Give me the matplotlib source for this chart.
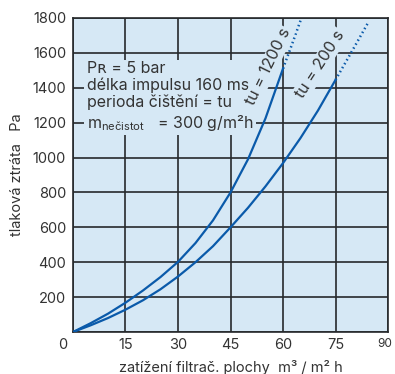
"""Tlaková ztráta vs. zatížení filtrační plochy for two cleaning periods."""
import matplotlib
matplotlib.use("Agg")
import matplotlib.pyplot as plt
from matplotlib.transforms import ScaledTranslation

# data
load_1200 = [0, 5, 10, 15, 20, 25, 30, 35, 40, 45, 50, 55, 60]
dp_1200 = [0, 50, 105, 168, 238, 315, 402, 510, 640, 800, 990, 1225, 1510]
load_1200_ext = [60, 62.5, 65]
dp_1200_ext = [1510, 1645, 1785]

load_200 = [0, 5, 10, 15, 20, 25, 30, 35, 40, 45, 50, 55, 60, 65, 70, 75]
dp_200 = [0, 38, 80, 128, 182, 245, 318, 400, 492, 600, 712, 835, 968, 1112, 1270, 1445]
load_200_ext = [75, 80, 84.5]
dp_200_ext = [1445, 1620, 1780]

x_ticks = [0, 15, 30, 45, 60, 75, 90]
y_ticks = [0, 200, 400, 600, 800, 1000, 1200, 1400, 1600, 1800]

BG = "#d6e8f5"
BLUE = "#0a5aaa"
GRID = "#26292c"
TXT = "#333333"

plt.rcParams["font.family"] = ["Inter", "DejaVu Sans"]
plt.rcParams["mathtext.fontset"] = "custom"
plt.rcParams["mathtext.rm"] = "Inter"

fig = plt.figure(figsize=(3.95, 3.74), dpi=100)
ax = fig.add_axes([0.1848, 0.1123, 0.7975, 0.8396])
ax.set_facecolor(BG)

ax.plot(load_1200, dp_1200, color=BLUE, lw=1.6, zorder=3)
ax.plot(load_1200_ext, dp_1200_ext, color=BLUE, lw=1.8, ls=(0, (0.6, 1.2)), zorder=3)
ax.plot(load_200, dp_200, color=BLUE, lw=1.6, zorder=3)
ax.plot(load_200_ext, dp_200_ext, color=BLUE, lw=1.8, ls=(0, (0.6, 1.2)), zorder=3)

ax.set_xlim(0, 90)
ax.set_ylim(0, 1800)
ax.set_xticks(x_ticks)
ax.set_yticks(y_ticks)
ax.grid(color=GRID, lw=1.2)
ax.set_axisbelow(True)
for s in ax.spines.values():
    s.set_color(GRID)
    s.set_linewidth(1.2)
ax.tick_params(length=0, labelsize=10.5, labelcolor=TXT)
ax.tick_params(axis="y", pad=5)
ax.tick_params(axis="x", pad=4)

xl = ax.get_xticklabels()
xl[0].set_transform(xl[0].get_transform() + ScaledTranslation(-10 / 100, 0, fig.dpi_scale_trans))
xl[-1].set_fontsize(8.5)
xl[-1].set_transform(xl[-1].get_transform() + ScaledTranslation(-3 / 100, 0, fig.dpi_scale_trans))
ax.get_yticklabels()[0].set_visible(False)

ax.set_xlabel("zatížení filtrač. plochy  m³ / m² h", fontsize=10.5, color=TXT, labelpad=6)
ax.set_ylabel("tlaková ztráta   Pa", fontsize=10.5, color=TXT, labelpad=6)

info = ("Pʀ = 5 bar\n"
        "délka impulsu 160 ms\n"
        "perioda čištění = tu\n"
        "m$_\\mathregular{nečistot}$   = 300 g/m²h")
ax.text(3.9, 1555, info, fontsize=11.5, color=TXT, va="top", ha="left",
        linespacing=1.15, zorder=4,
        bbox=dict(facecolor=BG, edgecolor="none", pad=2))

ax.text(55.8, 1520, "tu = 1200 s", rotation=64, fontsize=11.5, color=TXT,
        ha="center", va="center", rotation_mode="anchor", zorder=4,
        bbox=dict(facecolor=BG, edgecolor="none", pad=1))
ax.text(70.6, 1535, "tu = 200 s", rotation=57, fontsize=11.5, color=TXT,
        ha="center", va="center", rotation_mode="anchor", zorder=4,
        bbox=dict(facecolor=BG, edgecolor="none", pad=1))

fig.savefig("out.png", dpi=100)
